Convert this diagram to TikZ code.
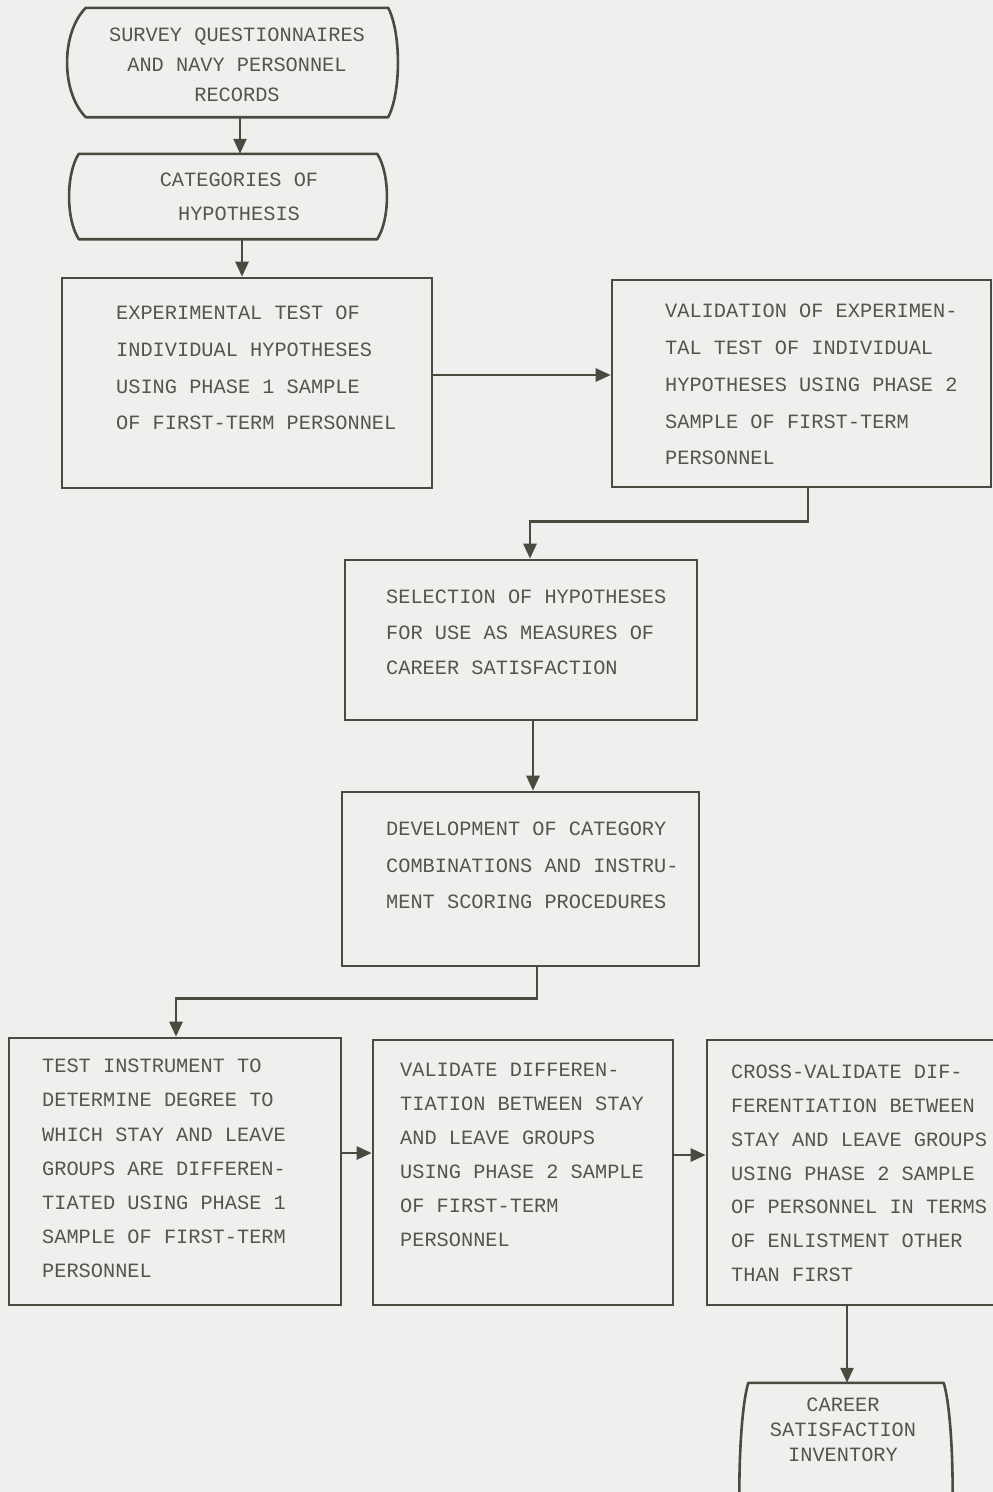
\documentclass[tikz,border=0pt]{standalone}
\usepackage{fontspec}
\newfontfamily\tw{Liberation Mono}
\usetikzlibrary{arrows.meta}
\definecolor{bg}{HTML}{EFEFED}
\definecolor{lnc}{HTML}{4A4A40}
\definecolor{tc}{HTML}{55554F}
\newcommand{\twf}[1]{\tw\fontsize{20.3}{#1}\selectfont}
\begin{document}
\begin{tikzpicture}[x=1pt,y=-1pt,
  box/.style={draw=lnc, line width=2.6pt, inner sep=0pt},
  term/.style={inner sep=0pt, draw=none},
  outline/.style={draw=lnc, line width=2.6pt, line join=round},
  txt/.style={inner sep=0pt, align=left, text=tc, anchor=north west},
  ctxt/.style={inner sep=0pt, align=center, text=tc},
  arr/.style={draw=lnc, line width=2.6pt, -{Triangle[length=15pt,width=13pt]}}]
\fill[bg] (0,0) rectangle (993,1492);
\useasboundingbox (0,0) rectangle (993,1492);
\clip (0,0) rectangle (993,1492);

% terminal 1
\node[term, minimum width=302pt, minimum height=109pt] (t1) at (237,62.5) {};
\draw[outline] (t1.north west) .. controls +(-25,25) and +(-25,-25) .. (t1.south west) -- (t1.south east) .. controls +(13,-25) and +(13,25) .. (t1.north east) -- cycle;
\node[ctxt, font=\twf{30}] (t1x) at (237,65) {SURVEY QUESTIONNAIRES\\AND NAVY PERSONNEL\\RECORDS};

% terminal 2
\node[term, minimum width=298pt, minimum height=85pt] (t2) at (228,196.5) {};
\draw[outline] (t2.north west) .. controls +(-13,20) and +(-13,-20) .. (t2.south west) -- (t2.south east) .. controls +(13,-20) and +(13,20) .. (t2.north east) -- cycle;
\node[ctxt, font=\twf{34}] (t2x) at (239,197) {CATEGORIES OF\\HYPOTHESIS};

% boxes
\node[box, minimum width=370pt, minimum height=210pt] (b3) at (247,383) {};
\node[txt, font=\twf{36.7}] (b3x) at (116,306) {EXPERIMENTAL TEST OF\\INDIVIDUAL HYPOTHESES\\USING PHASE 1 SAMPLE\\OF FIRST-TERM PERSONNEL};

\node[box, minimum width=379pt, minimum height=207pt] (b4) at (801.5,383.5) {};
\node[txt, font=\twf{36.75}] (b4x) at (665,304) {VALIDATION OF EXPERIMEN-\\TAL TEST OF INDIVIDUAL\\HYPOTHESES USING PHASE 2\\SAMPLE OF FIRST-TERM\\PERSONNEL};

\node[box, minimum width=352pt, minimum height=160pt] (b5) at (521,640) {};
\node[txt, font=\twf{35.5}] (b5x) at (386,590) {SELECTION OF HYPOTHESES\\FOR USE AS MEASURES OF\\CAREER SATISFACTION};

\node[box, minimum width=357pt, minimum height=174pt] (b6) at (520.5,879) {};
\node[txt, font=\twf{36.5}] (b6x) at (386,822) {DEVELOPMENT OF CATEGORY\\COMBINATIONS AND INSTRU-\\MENT SCORING PROCEDURES};

\node[box, minimum width=332pt, minimum height=267pt] (b7) at (175,1171.5) {};
\node[txt, font=\twf{34.2}] (b7x) at (42,1059) {TEST INSTRUMENT TO\\DETERMINE DEGREE TO\\WHICH STAY AND LEAVE\\GROUPS ARE DIFFEREN-\\TIATED USING PHASE 1\\SAMPLE OF FIRST-TERM\\PERSONNEL};

\node[box, minimum width=300pt, minimum height=265pt] (b8) at (523,1172.5) {};
\node[txt, font=\twf{34}] (b8x) at (400,1063) {VALIDATE DIFFEREN-\\TIATION BETWEEN STAY\\AND LEAVE GROUPS\\USING PHASE 2 SAMPLE\\OF FIRST-TERM\\PERSONNEL};

\node[box, minimum width=293pt, minimum height=265pt] (b9) at (853.5,1172.5) {};
\node[txt, font=\twf{33.8}] (b9x) at (731,1065) {CROSS-VALIDATE DIF-\\FERENTIATION BETWEEN\\STAY AND LEAVE GROUPS\\USING PHASE 2 SAMPLE\\OF PERSONNEL IN TERMS\\OF ENLISTMENT OTHER\\THAN FIRST};

% terminal 10
\node[term, minimum width=195pt, minimum height=224pt] (t10) at (846,1495) {};
\draw[outline] (t10.north west) .. controls +(-12,40) and +(-12,-40) .. (t10.south west) -- (t10.south east) .. controls +(12,-40) and +(12,40) .. (t10.north east) -- cycle;
\node[ctxt, font=\twf{25}] (t10x) at (843,1430) {CAREER\\SATISFACTION\\INVENTORY};

% connectors
\draw[arr] ([xshift=3pt]t1.south) -- ([xshift=12pt]t2.north);
\draw[arr] ([xshift=14pt]t2.south) -- ([xshift=-5pt]b3.north);
\draw[arr] ([yshift=8pt]b3.east) -- ([yshift=8.5pt]b4.west);
\draw[arr] ([xshift=6.5pt]b4.south) -- ++(0,33) -| ([xshift=9pt]b5.north);
\draw[arr] ([xshift=12pt]b5.south) -- ([xshift=12.5pt]b6.north);
\draw[arr] ([xshift=16.5pt]b6.south) -- ++(0,31) -| ([xshift=1pt]b7.north);
\draw[arr] ([yshift=18.5pt]b7.east) -- ([yshift=19.5pt]b8.west);
\draw[arr] ([yshift=17.5pt]b8.east) -- ([yshift=17.5pt]b9.west);
\draw[arr] ([xshift=-6.5pt]b9.south) -- ([xshift=1pt]t10.north);
\end{tikzpicture}
\end{document}
